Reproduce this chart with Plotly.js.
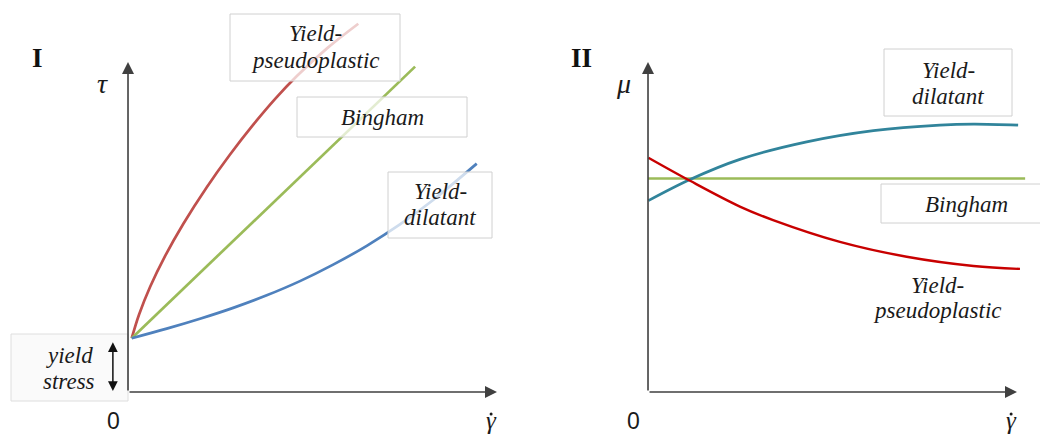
<!DOCTYPE html>
<html><head><meta charset="utf-8">
<script src="https://cdn.plot.ly/plotly-3.0.1.min.js"></script>
<style>html,body{margin:0;padding:0;background:#fff}</style>
</head><body>
<div id="chart" style="width:1040px;height:436px"></div>
<script>
// Panel I: shear stress (tau) vs shear rate
const pseudoX = [0.10,0.30,0.60,1.00,1.50,2.13,2.76,3.40,4.00,4.57,5.40,6.24];
const pseudoY = [1.63,2.35,3.19,4.11,5.10,6.20,7.19,8.11,8.90,9.57,10.42,11.16];
const binghamX = [0.10,7.78];
const binghamY = [1.63,9.86];
const dilatX = [0.10,1.05,1.95,2.85,3.76,4.66,5.56,6.47,7.36,8.27,9.45];
const dilatY = [1.63,1.92,2.22,2.55,2.93,3.36,3.86,4.43,5.07,5.82,6.92];
// Panel II: viscosity (mu) vs shear rate
const muDilatX = [0.01,1.14,2.49,4.30,6.11,7.91,8.82,10.03];
const muDilatY = [5.80,6.44,7.05,7.58,7.92,8.09,8.12,8.09];
const muPseudoX = [0.01,1.14,2.49,3.39,5.20,7.01,8.82,10.08];
const muPseudoY = [7.10,6.40,5.62,5.21,4.55,4.10,3.82,3.73];
const muBinghamX = [0,10.22];
const muBinghamY = [6.47,6.47];
const yieldStress = 1.55;
const axisEnd = 10;

const W = 1040, H = 436;
const px = x => x / W, py = y => 1 - y / H;

const lw = 2.7;
const traces = [
  {x: pseudoX, y: pseudoY, xaxis:'x', yaxis:'y', mode:'lines', line:{color:'#c0504d', width:lw, shape:'spline', smoothing:1}},
  {x: binghamX, y: binghamY, xaxis:'x', yaxis:'y', mode:'lines', line:{color:'#9bbb59', width:lw}},
  {x: dilatX, y: dilatY, xaxis:'x', yaxis:'y', mode:'lines', line:{color:'#4f81bd', width:lw, shape:'spline', smoothing:1}},
  {x: muBinghamX, y: muBinghamY, xaxis:'x2', yaxis:'y2', mode:'lines', line:{color:'#9bbb59', width:lw}},
  {x: muDilatX, y: muDilatY, xaxis:'x2', yaxis:'y2', mode:'lines', line:{color:'#31849b', width:lw, shape:'spline', smoothing:1}},
  {x: muPseudoX, y: muPseudoY, xaxis:'x2', yaxis:'y2', mode:'lines', line:{color:'#c80000', width:lw-0.3, shape:'spline', smoothing:1}}
];

const boxFill = 'rgba(255,255,255,0.72)';
const boxLine = '#d0d0d0';
function box(x0,y0,x1,y1,fill,line){
  return {type:'rect', xref:'paper', yref:'paper', x0:px(x0), x1:px(x1), y0:py(y1), y1:py(y0),
    fillcolor: fill||boxFill, line:{color: line||boxLine, width:1}, layer:'above'};
}
const shapes = [
  box(230,14,400,81),
  box(297,97,467,137),
  box(388,172,492,238),
  box(11,334,128,401,'rgba(250,250,250,0.95)','#dedede'),
  box(884,49,1012,116),
  box(881,184,1050,223),
  // dots of gamma-dot symbols
  {type:'circle', xref:'paper', yref:'paper', x0:px(489.6), x1:px(492.6), y0:py(415.5), y1:py(412.5), fillcolor:'#1a1a1a', line:{width:0}},
  {type:'circle', xref:'paper', yref:'paper', x0:px(1009.6), x1:px(1012.6), y0:py(415.5), y1:py(412.5), fillcolor:'#1a1a1a', line:{width:0}}
];

const serifIt = {family:'Liberation Serif, Times New Roman, serif', size:23, color:'#1a1a1a', style:'italic'};
function label(text, x, y, font){
  return {text, xref:'paper', yref:'paper', x:px(x), y:py(y), xanchor:'center', yanchor:'middle',
    showarrow:false, font: font||serifIt};
}
const symIt = {family:'Liberation Serif, Times New Roman, serif', size:28, color:'#1a1a1a', style:'italic'};
const gamF = {family:'Liberation Serif, Times New Roman, serif', size:25, color:'#1a1a1a', style:'italic'};
const zeroF = {family:'Liberation Sans, Arial, sans-serif', size:23, color:'#1a1a1a'};
const bold = {family:'Liberation Serif, Times New Roman, serif', size:27, color:'#111', weight:'bold'};

function axisArrow(xr, yr, hx, hy, tx, ty, color, w, sz){
  return {xref:xr, yref:yr, axref:xr, ayref:yr, x:hx, y:hy, ax:tx, ay:ty, text:'', showarrow:true,
    arrowhead:2, arrowsize:sz||1.5, arrowwidth:w||1.6, arrowcolor:color||'#404040', standoff:0, startstandoff:0};
}

const annotations = [
  axisArrow('x','y', axisEnd, 0, 0, 0),
  axisArrow('x','y', 0, axisEnd, 0, 0),
  axisArrow('x2','y2', axisEnd, 0, 0, 0),
  axisArrow('x2','y2', 0, axisEnd, 0, 0),
  Object.assign(axisArrow('x','y', -0.41, 0.03, -0.41, yieldStress, '#111', 1.5, 1.3), {arrowside:'end+start', startarrowhead:2, startarrowsize:1.3}),
  label('Yield-', 315, 34),
  label('pseudoplastic', 315, 60),
  label('Bingham', 382, 117),
  label('Yield-', 440, 191),
  label('dilatant', 440, 217),
  label('yield', 69, 355),
  label('stress', 69, 381),
  label('Yield-', 948, 71),
  label('dilatant', 948, 97),
  label('Bingham', 966, 204),
  label('Yield-', 937, 285),
  label('pseudoplastic', 937, 310),
  label('I', 37, 58, bold),
  label('II', 581, 58, bold),
  label('τ', 102, 84, symIt),
  label('μ', 623, 84, symIt),
  label('0', 113, 421, zeroF),
  label('0', 633, 421, zeroF),
  label('γ', 491, 420, gamF),
  label('γ', 1011, 420, gamF)
];

const ax = {range:[-3.469,10.623], visible:false, fixedrange:true};
const ay = {range:[-1.333,11.879], visible:false, fixedrange:true};
const layout = {
  width: W, height: H, margin:{l:0,r:0,t:0,b:0},
  paper_bgcolor:'#fff', plot_bgcolor:'rgba(0,0,0,0)', showlegend:false,
  xaxis: Object.assign({domain:[0,0.5]}, ax),
  yaxis: Object.assign({domain:[0,1], anchor:'x'}, ay),
  xaxis2: Object.assign({domain:[0.5,1], anchor:'y2'}, ax),
  yaxis2: Object.assign({domain:[0,1], anchor:'x2'}, ay),
  shapes, annotations
};
Plotly.newPlot('chart', traces, layout, {staticPlot:true, displayModeBar:false});
</script>
</body></html>
